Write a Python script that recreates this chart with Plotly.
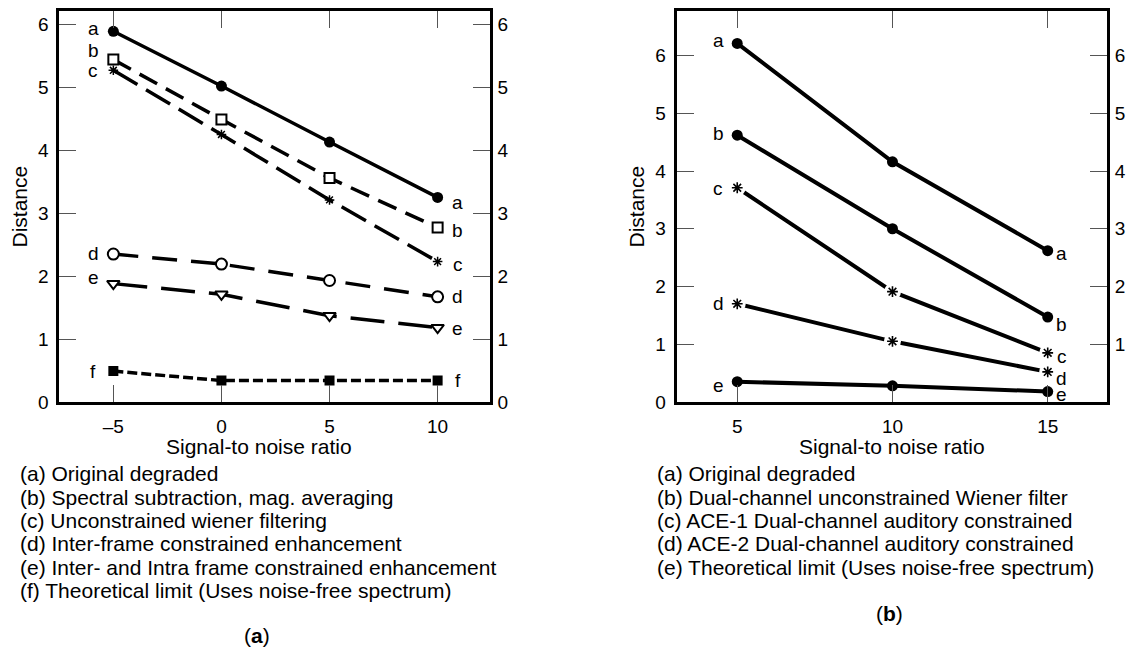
import plotly.graph_objects as go

# ---------------- data: panel (a) ----------------
snr_a = [-5, 0, 5, 10]
a_orig = [5.89, 5.02, 4.13, 3.25]
a_spec = [5.44, 4.49, 3.56, 2.77]
a_wien = [5.27, 4.25, 3.21, 2.23]
a_inter = [2.35, 2.19, 1.93, 1.67]
a_intra = [1.88, 1.71, 1.37, 1.18]
a_theo = [0.49, 0.34, 0.34, 0.34]
letters_a = ["a", "b", "c", "d", "e", "f"]
xticks_a = [-5, 0, 5, 10]
xticktext_a = ["–5", "0", "5", "10"]
yticks_a = [0, 1, 2, 3, 4, 5, 6]
legend_a = [
    "(a) Original degraded",
    "(b) Spectral subtraction, mag. averaging",
    "(c) Unconstrained wiener filtering",
    "(d) Inter-frame constrained enhancement",
    "(e) Inter- and Intra frame constrained enhancement",
    "(f) Theoretical limit (Uses noise-free spectrum)",
]

# ---------------- data: panel (b) ----------------
snr_b = [5, 10, 15]
b_orig = [6.21, 4.16, 2.62]
b_dual = [4.62, 3.00, 1.47]
b_ace1 = [3.71, 1.91, 0.85]
b_ace2 = [1.70, 1.05, 0.52]
b_theo = [0.35, 0.28, 0.18]
letters_b = ["a", "b", "c", "d", "e"]
xticks_b = [5, 10, 15]
yticks_b = [0, 1, 2, 3, 4, 5, 6]
yticks_b_right = [1, 2, 3, 4, 5, 6]
legend_b = [
    "(a) Original degraded",
    "(b) Dual-channel unconstrained Wiener filter",
    "(c) ACE-1 Dual-channel auditory constrained",
    "(d) ACE-2 Dual-channel auditory constrained",
    "(e) Theoretical limit (Uses noise-free spectrum)",
]

W, H = 1126, 655
FONT = "Liberation Sans, Arial, Helvetica, sans-serif"
BLACK = "#000000"

fig = go.Figure()

# ---- panel (a) series ----
series_a = [
    (a_orig, "solid", "circle", BLACK, 11, 0),
    (a_spec, "20px,10px", "square", "white", 10, 2),
    (a_wien, "28px,10px", "asterisk-open", BLACK, 8, 1.5),
    (a_inter, "25px,14px", "circle", "white", 11, 2),
    (a_intra, "34px,14px", "triangle-down", "white", 11, 2),
    (a_theo, "10px,4px", "square", BLACK, 10, 0),
]
for ys, dash, sym, fill, size, lw in series_a:
    fig.add_trace(go.Scatter(
        x=snr_a, y=ys, mode="lines+markers", xaxis="x", yaxis="y",
        line=dict(color=BLACK, width=3.5, dash=dash),
        marker=dict(symbol=sym, size=size, color=fill,
                    line=dict(color=BLACK, width=lw)),
        showlegend=False, hoverinfo="skip"))

# invisible trace to carry the right-hand axis of panel (a)
fig.add_trace(go.Scatter(x=snr_a, y=a_orig, mode="lines", xaxis="x", yaxis="y2",
                         line=dict(width=0), opacity=0, showlegend=False,
                         hoverinfo="skip"))

# ---- panel (b) series ----
series_b = [
    (b_orig, "circle", 11),
    (b_dual, "circle", 11),
    (b_ace1, "asterisk-open", 9),
    (b_ace2, "asterisk-open", 9),
    (b_theo, "circle", 11),
]
for ys, sym, size in series_b:
    fig.add_trace(go.Scatter(
        x=snr_b, y=ys, mode="lines", xaxis="x2", yaxis="y3",
        line=dict(color=BLACK, width=4),
        showlegend=False, hoverinfo="skip"))
    if sym == "asterisk-open":
        fig.add_trace(go.Scatter(
            x=snr_b, y=ys, mode="markers", xaxis="x2", yaxis="y3",
            marker=dict(symbol="circle", size=17, color="white"),
            showlegend=False, hoverinfo="skip"))
        fig.add_trace(go.Scatter(
            x=snr_b, y=ys, mode="markers", xaxis="x2", yaxis="y3",
            marker=dict(symbol="asterisk-open", size=size, color=BLACK,
                        line=dict(color=BLACK, width=1.6)),
            showlegend=False, hoverinfo="skip"))
    else:
        fig.add_trace(go.Scatter(
            x=snr_b, y=ys, mode="markers", xaxis="x2", yaxis="y3",
            marker=dict(symbol="circle", size=size, color=BLACK),
            showlegend=False, hoverinfo="skip"))

fig.add_trace(go.Scatter(x=snr_b, y=b_orig, mode="lines", xaxis="x2", yaxis="y4",
                         line=dict(width=0), opacity=0, showlegend=False,
                         hoverinfo="skip"))

# ---- axes ----
dom_y = [1 - 408.8 / H, 1 - 10.7 / H]
dom_xa = [59.3 / W, 489.5 / W]
dom_xb = [676.7 / W, 1106.7 / W]

common = dict(showline=True, linecolor=BLACK, linewidth=3, mirror="ticks",
              ticks="inside", ticklen=17, tickwidth=1, tickcolor="#555555",
              showgrid=False, zeroline=False,
              tickfont=dict(family=FONT, size=19, color=BLACK))

fig.update_layout(
    width=W, height=H, margin=dict(l=0, r=0, t=0, b=0),
    paper_bgcolor="white", plot_bgcolor="white",
    xaxis=dict(domain=dom_xa, range=[-7.5, 12.4], tickvals=xticks_a,
               ticktext=xticktext_a, anchor="y", ticklabelstandoff=5, **common),
    yaxis=dict(domain=dom_y, range=[0, 6.22], tickvals=yticks_a, anchor="x",
               ticklabelstandoff=4, **common),
    yaxis2=dict(overlaying="y", side="right", anchor="x", range=[0, 6.22],
                tickvals=yticks_a, ticks="", showline=False, showgrid=False,
                zeroline=False, ticklabelstandoff=7,
                tickfont=dict(family=FONT, size=19, color=BLACK)),
    xaxis2=dict(domain=dom_xb, range=[3.05, 16.9], tickvals=xticks_b,
                anchor="y3", ticklabelstandoff=5, **common),
    yaxis3=dict(domain=dom_y, range=[0, 6.78], tickvals=yticks_b, anchor="x2",
                ticklabelstandoff=4, **common),
    yaxis4=dict(overlaying="y3", side="right", anchor="x2", range=[0, 6.78],
                tickvals=yticks_b_right, ticks="", showline=False, showgrid=False,
                zeroline=False, ticklabelstandoff=7,
                tickfont=dict(family=FONT, size=19, color=BLACK)),
)

ann = []
lab_font = dict(family=FONT, size=19, color=BLACK)
txt_font = dict(family=FONT, size=21, color=BLACK)

# series letters, panel (a)
shift_left_a = [3, 9, 0, 1, 6, 0]
shift_right_a = [-5, -3, -3, 0, -1, 0]
for ys, let, sl, sr in zip([s[0] for s in series_a], letters_a, shift_left_a, shift_right_a):
    ann.append(dict(x=snr_a[0], y=ys[0], xref="x", yref="y", text=let,
                    showarrow=False, xshift=-20, yshift=sl, font=lab_font))
    ann.append(dict(x=snr_a[-1], y=ys[-1], xref="x", yref="y", text=let,
                    showarrow=False, xshift=20, yshift=sr, font=lab_font))

# series letters, panel (b)
shift_left_b = [3, 2, -1, 0, -4]
shift_right_b = [-3, -7, -4, -7, -3]
for ys, let, sl, sr in zip([s[0] for s in series_b], letters_b, shift_left_b, shift_right_b):
    ann.append(dict(x=snr_b[0], y=ys[0], xref="x2", yref="y3", text=let,
                    showarrow=False, xshift=-19, yshift=sl, font=lab_font))
    ann.append(dict(x=snr_b[-1], y=ys[-1], xref="x2", yref="y3", text=let,
                    showarrow=False, xshift=14, yshift=sr, font=lab_font))

# axis titles
for xc in [19, 636]:
    ann.append(dict(x=xc / W, y=1 - 210 / H, xref="paper", yref="paper",
                    text="Distance", textangle=-90, showarrow=False,
                    font=txt_font, xanchor="center", yanchor="middle"))
for xc in [259, 891.7]:
    ann.append(dict(x=xc / W, y=1 - 454 / H, xref="paper", yref="paper",
                    text="Signal-to noise ratio", showarrow=False,
                    font=txt_font, xanchor="center", yanchor="middle"))

# legend text blocks
line_y = [481.7, 505.5, 529.3, 553.1, 576.9, 600.7]
for txt, yc in zip(legend_a, line_y):
    ann.append(dict(x=18 / W, y=1 - yc / H, xref="paper", yref="paper",
                    text=txt, showarrow=False, font=txt_font,
                    xanchor="left", yanchor="middle"))
for txt, yc in zip(legend_b, line_y):
    ann.append(dict(x=655 / W, y=1 - yc / H, xref="paper", yref="paper",
                    text=txt, showarrow=False, font=txt_font,
                    xanchor="left", yanchor="middle"))

ann.append(dict(x=256.7 / W, y=1 - 646 / H, xref="paper", yref="paper",
                text="(<b>a</b>)", showarrow=False, font=txt_font,
                xanchor="center", yanchor="middle"))
ann.append(dict(x=889 / W, y=1 - 624.3 / H, xref="paper", yref="paper",
                text="(<b>b</b>)", showarrow=False, font=txt_font,
                xanchor="center", yanchor="middle"))

fig.update_layout(annotations=ann)
fig.write_html("out.html")
